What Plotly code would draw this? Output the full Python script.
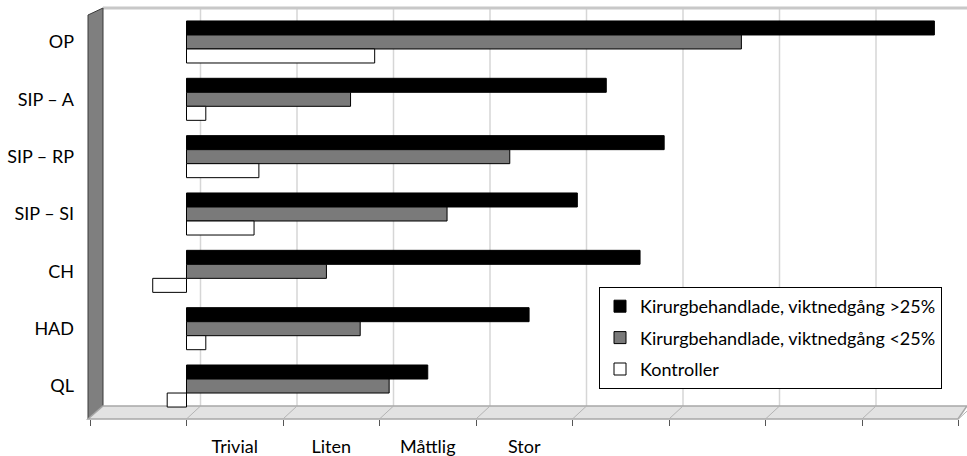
import plotly.graph_objects as go

W, H = 967, 456

categories = ["OP", "SIP – A", "SIP – RP", "SIP – SI", "CH", "HAD", "QL"]
series_names = [
    "Kirurgbehandlade, viktnedgång >25%",
    "Kirurgbehandlade, viktnedgång <25%",
    "Kontroller",
]
loss_over_25 = [1.55, 0.87, 0.99, 0.81, 0.94, 0.71, 0.50]
loss_under_25 = [1.15, 0.34, 0.67, 0.54, 0.29, 0.36, 0.42]
controls = [0.39, 0.04, 0.15, 0.14, -0.07, 0.04, -0.04]
band_labels = ["Trivial", "Liten", "Måttlig", "Stor"]
band_centers = [0.1, 0.3, 0.5, 0.7]
scale_ticks = [-0.2, 0.0, 0.2, 0.4, 0.6, 0.8, 1.0, 1.2, 1.4, 1.6]

FONT = "Lato"
PX_PER_UNIT = 482.5
ZERO_FRONT = 186.5   # zero on the front plane (bars, ticks)
ZERO_BACK = 200.5    # zero on the back wall (gridlines)


def fx(x):
    return x / W


def fy(y):
    return 1 - y / H


def front_range(left, right):
    return [(left - ZERO_FRONT) / PX_PER_UNIT, (right - ZERO_FRONT) / PX_PER_UNIT]


fig = go.Figure()

colors = ["#000000", "#7a7a7a", "#ffffff"]
for name, vals, col in zip(series_names, [loss_over_25, loss_under_25, controls], colors):
    fig.add_trace(go.Bar(
        y=categories, x=vals, name=name, orientation="h",
        marker=dict(color=col, line=dict(color="#000000", width=1)),
        legendgroup=name,
    ))

# 3D frame: back wall gridlines, left wall, floor and the slanted tick connectors
wall_left, wall_top, wall_bottom = 103, 8, 406
front_left, front_top, front_bottom = 88, 15, 419
shapes = []
for v in scale_ticks[1:-1]:
    xb = fx(ZERO_BACK + v * PX_PER_UNIT)
    shapes.append(dict(type="line", xref="paper", yref="paper", layer="below",
                       x0=xb, y0=fy(wall_top), x1=xb, y1=fy(wall_bottom),
                       line=dict(color="#d6d6d6", width=1.5)))
shapes.append(dict(type="line", xref="paper", yref="paper", layer="below",
                   x0=fx(wall_left), y0=fy(wall_top), x1=1, y1=fy(wall_top),
                   line=dict(color="#c8c8c8", width=3)))
shapes.append(dict(
    type="path", xref="paper", yref="paper", layer="below",
    path=f"M {fx(front_left)},{fy(front_top)} L {fx(wall_left)},{fy(wall_top)} "
         f"L {fx(wall_left)},{fy(wall_bottom)} L {fx(front_left)},{fy(front_bottom)} Z",
    fillcolor="#7f7f7f", line=dict(color="#3a3a3a", width=1)))
shapes.append(dict(
    type="path", xref="paper", yref="paper", layer="below",
    path=f"M {fx(wall_left)},{fy(wall_bottom)} L {fx(967)},{fy(wall_bottom)} "
         f"L {fx(958)},{fy(front_bottom)} L {fx(front_left)},{fy(front_bottom)} Z",
    fillcolor="#e2e2e2", line=dict(color="#a8a8a8", width=1.5)))
for v in scale_ticks[1:]:
    shapes.append(dict(
        type="line", xref="paper", yref="paper", layer="below",
        x0=fx(ZERO_BACK + v * PX_PER_UNIT), y0=fy(wall_bottom),
        x1=fx(ZERO_FRONT + v * PX_PER_UNIT), y1=fy(front_bottom),
        line=dict(color="#b4b4b4", width=1)))

fig.update_layout(
    width=W, height=H, autosize=False,
    margin=dict(l=0, r=0, t=0, b=0),
    paper_bgcolor="#ffffff", plot_bgcolor="rgba(0,0,0,0)",
    font=dict(family=FONT, color="#000000", size=18),
    barmode="group", bargap=0.267, bargroupgap=0.0,
    shapes=shapes,
    xaxis=dict(domain=[fx(front_left), fx(962)], range=front_range(front_left, 962),
               anchor="free", position=fy(front_bottom),
               tickvals=band_centers, ticktext=band_labels, ticks="",
               ticklabelstandoff=15,
               minor=dict(tickvals=scale_ticks, ticks="outside", ticklen=6,
                          tickcolor="#555555", tickwidth=1, showgrid=False),
               showgrid=False, zeroline=False, showline=False),
    yaxis=dict(domain=[fy(414.7), fy(13.3)], anchor="x", type="category",
               categoryorder="array", categoryarray=categories,
               range=[6.5, -0.5], ticks="", ticklabelstandoff=13,
               showgrid=False, zeroline=False, showline=False),
    legend=dict(x=fx(599), y=fy(287), xanchor="left", yanchor="top",
                bgcolor="#ffffff", bordercolor="#000000", borderwidth=1,
                font=dict(family=FONT, size=18), traceorder="grouped",
                tracegroupgap=5, itemwidth=30, entrywidth=310),
)

fig.write_html("out.html")
